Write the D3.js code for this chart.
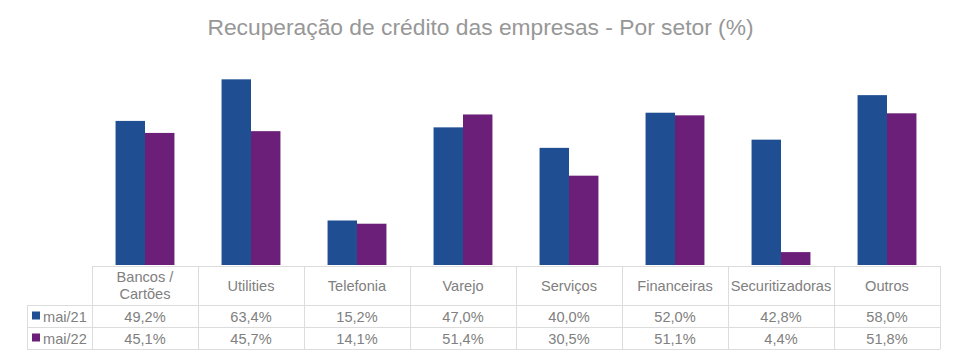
<!DOCTYPE html>
<html><head><meta charset="utf-8">
<script src="https://cdn.jsdelivr.net/npm/d3@7/dist/d3.min.js"></script>
<style>body{margin:0;background:#fff}svg{display:block}</style>
</head><body>
<svg id="c" width="958" height="357"></svg>
<script>
const categories = ["Bancos /\nCartões","Utilities","Telefonia","Varejo","Serviços","Financeiras","Securitizadoras","Outros"];
const seriesNames = ["mai/21","mai/22"];
const mai21 = [49.2,63.4,15.2,47.0,40.0,52.0,42.8,58.0];
const mai22 = [45.1,45.7,14.1,51.4,30.5,51.1,4.4,51.8];
const labels21 = ["49,2%","63,4%","15,2%","47,0%","40,0%","52,0%","42,8%","58,0%"];
const labels22 = ["45,1%","45,7%","14,1%","51,4%","30,5%","51,1%","4,4%","51,8%"];
const colors = ["#1f4e92","#6b1f78"];

const svg = d3.select("#c");
const font = "'Liberation Sans', Arial, sans-serif";
const left = 92, right = 940, base = 265;
const x = d3.scaleBand().domain(categories).range([left, right]);
const xs = d3.scaleBand().domain(seriesNames).range([0, x.bandwidth()]).paddingInner(0).paddingOuter(0.8);
const y = d3.scaleLinear().domain([0, 70]).range([base, 60]);

svg.append("text").attr("x", 480.5).attr("y", 34.5).attr("text-anchor","middle")
  .attr("font-family", font).attr("font-size", 22.8).attr("fill", "#979797")
  .text("Recuperação de crédito das empresas - Por setor (%)");

const series = [mai21, mai22];
series.forEach((vals, si) => {
  svg.append("g").selectAll("rect").data(vals).join("rect")
    .attr("x", (d,i) => x(categories[i]) + xs(seriesNames[si]))
    .attr("width", xs.bandwidth())
    .attr("y", d => y(d))
    .attr("height", d => base - y(d))
    .attr("fill", colors[si]);
});

// table
const grid = "#dcdcdc";
const rowY = [266, 305, 327, 349];
const lx = 27;
const g = svg.append("g").attr("stroke", grid).attr("stroke-width", 1).attr("fill","none");
g.append("line").attr("x1", left).attr("x2", right).attr("y1", rowY[0]+0.5).attr("y2", rowY[0]+0.5);
[1,2,3].forEach(k => g.append("line").attr("x1", lx).attr("x2", right).attr("y1", rowY[k]+0.5).attr("y2", rowY[k]+0.5));
categories.forEach(c => g.append("line").attr("x1", x(c)+0.5).attr("x2", x(c)+0.5).attr("y1", rowY[0]).attr("y2", rowY[3]));
g.append("line").attr("x1", right+0.5).attr("x2", right+0.5).attr("y1", rowY[0]).attr("y2", rowY[3]);
g.append("line").attr("x1", lx+0.5).attr("x2", lx+0.5).attr("y1", rowY[1]).attr("y2", rowY[3]);

const tc = "#808080";
const fs = 14.6;
categories.forEach(c => {
  const lines = c.split("\n");
  const cx = x(c) + x.bandwidth()/2;
  const t = svg.append("text").attr("text-anchor","middle").attr("font-family", font)
    .attr("font-size", fs).attr("fill", tc);
  if (lines.length === 1) {
    t.attr("x", cx).attr("y", 291).text(lines[0]);
  } else {
    lines.forEach((l, i) => t.append("tspan").attr("x", cx).attr("y", 282 + i*17).text(l));
  }
});
[labels21, labels22].forEach((labs, si) => {
  const yy = (rowY[si+1] + rowY[si+2]) / 2 + 5.5;
  labs.forEach((l, i) => {
    svg.append("text").attr("x", x(categories[i]) + x.bandwidth()/2).attr("y", yy)
      .attr("text-anchor","middle").attr("font-family", font).attr("font-size", fs)
      .attr("fill", tc).text(l);
  });
  svg.append("rect").attr("x", 32).attr("y", yy - 10).attr("width", 8).attr("height", 8).attr("fill", colors[si]);
  svg.append("text").attr("x", 43).attr("y", yy).attr("font-family", font).attr("font-size", fs)
    .attr("fill", tc).text(seriesNames[si]);
});
</script>
</body></html>
